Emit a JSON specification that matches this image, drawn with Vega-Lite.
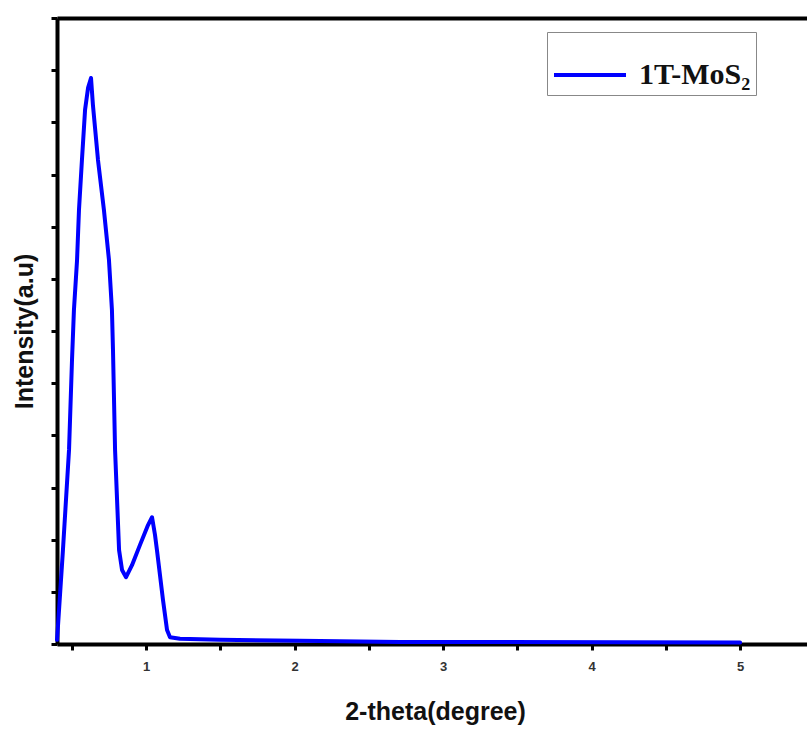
{
  "$schema": "https://vega.github.io/schema/vega-lite/v6.json",
  "autosize": {"type": "none"},
  "padding": {"left": 57, "top": 18, "right": 0, "bottom": 89},
  "width": 750,
  "height": 626,
  "background": "white",
  "config": {
    "view": {"stroke": null},
    "axis": {"grid": false, "domainColor": "black", "domainWidth": 4, "tickColor": "black", "tickWidth": 3, "tickSize": 6,
      "labelFont": "Liberation Sans", "labelFontWeight": "bold", "labelFontSize": 13, "labelColor": "#333",
      "titleFont": "Liberation Sans", "titleFontWeight": "bold", "titleFontSize": 25, "titleColor": "#111"}
  },
  "data": {"values": [
    {"x": 0.400, "y": 0.08}, {"x": 0.407, "y": 0.36}, {"x": 0.440, "y": 1.80}, {"x": 0.481, "y": 3.72},
    {"x": 0.501, "y": 5.44}, {"x": 0.514, "y": 6.40}, {"x": 0.535, "y": 7.36}, {"x": 0.548, "y": 8.32},
    {"x": 0.568, "y": 9.28}, {"x": 0.589, "y": 10.24}, {"x": 0.609, "y": 10.66}, {"x": 0.629, "y": 10.85},
    {"x": 0.642, "y": 10.33}, {"x": 0.676, "y": 9.28}, {"x": 0.716, "y": 8.32}, {"x": 0.750, "y": 7.36},
    {"x": 0.770, "y": 6.40}, {"x": 0.777, "y": 5.64}, {"x": 0.791, "y": 3.72}, {"x": 0.818, "y": 1.80},
    {"x": 0.838, "y": 1.42}, {"x": 0.865, "y": 1.28}, {"x": 0.905, "y": 1.51}, {"x": 0.959, "y": 1.90},
    {"x": 1.013, "y": 2.28}, {"x": 1.040, "y": 2.43}, {"x": 1.060, "y": 2.09}, {"x": 1.073, "y": 1.80},
    {"x": 1.114, "y": 0.84}, {"x": 1.141, "y": 0.27}, {"x": 1.161, "y": 0.13}, {"x": 1.228, "y": 0.10},
    {"x": 1.498, "y": 0.08}, {"x": 2.036, "y": 0.06}, {"x": 2.71, "y": 0.04}, {"x": 3.38, "y": 0.04},
    {"x": 5.0, "y": 0.03}
  ]},
  "resolve": {"axis": {"x": "independent"}},
  "layer": [
    {
      "mark": {"type": "line", "strokeWidth": 4, "strokeJoin": "round", "strokeCap": "round"},
      "encoding": {
        "x": {"field": "x", "type": "quantitative", "scale": {"domain": [0.4, 5.4505], "nice": false, "zero": false},
          "title": "2-theta(degree)",
          "axis": {"values": [0.5, 1, 1.5, 2, 2.5, 3, 3.5, 4, 4.5, 5], "labelExpr": "datum.value % 1 === 0 ? format(datum.value, 'd') : ''", "labelPadding": 10, "titlePadding": 26, "titleX": 378}},
        "y": {"field": "y", "type": "quantitative", "scale": {"domain": [0, 12], "nice": false},
          "title": "Intensity(a.u)",
          "axis": {"values": [0,1,2,3,4,5,6,7,8,9,10,11,12], "labels": false, "titlePadding": 12}},
        "color": {"datum": "1T-MoS₂", "type": "nominal", "scale": {"range": ["#0000ff"]},
          "legend": {"title": null, "orient": "none", "legendX": 490, "legendY": 14, "symbolType": "stroke", "symbolSize": 5184, "symbolStrokeWidth": 4,
            "labelFont": "Liberation Serif", "labelFontWeight": "bold", "labelFontSize": 30, "labelColor": "#111", "labelOffset": 11,
            "strokeColor": "#888", "padding": 5, "fillColor": "white"}}
      }
    },
    {
      "mark": {"type": "point", "opacity": 0},
      "encoding": {
        "x": {"field": "x", "type": "quantitative", "axis": {"orient": "top", "ticks": false, "labels": false, "title": null}}
      }
    }
  ]
}
